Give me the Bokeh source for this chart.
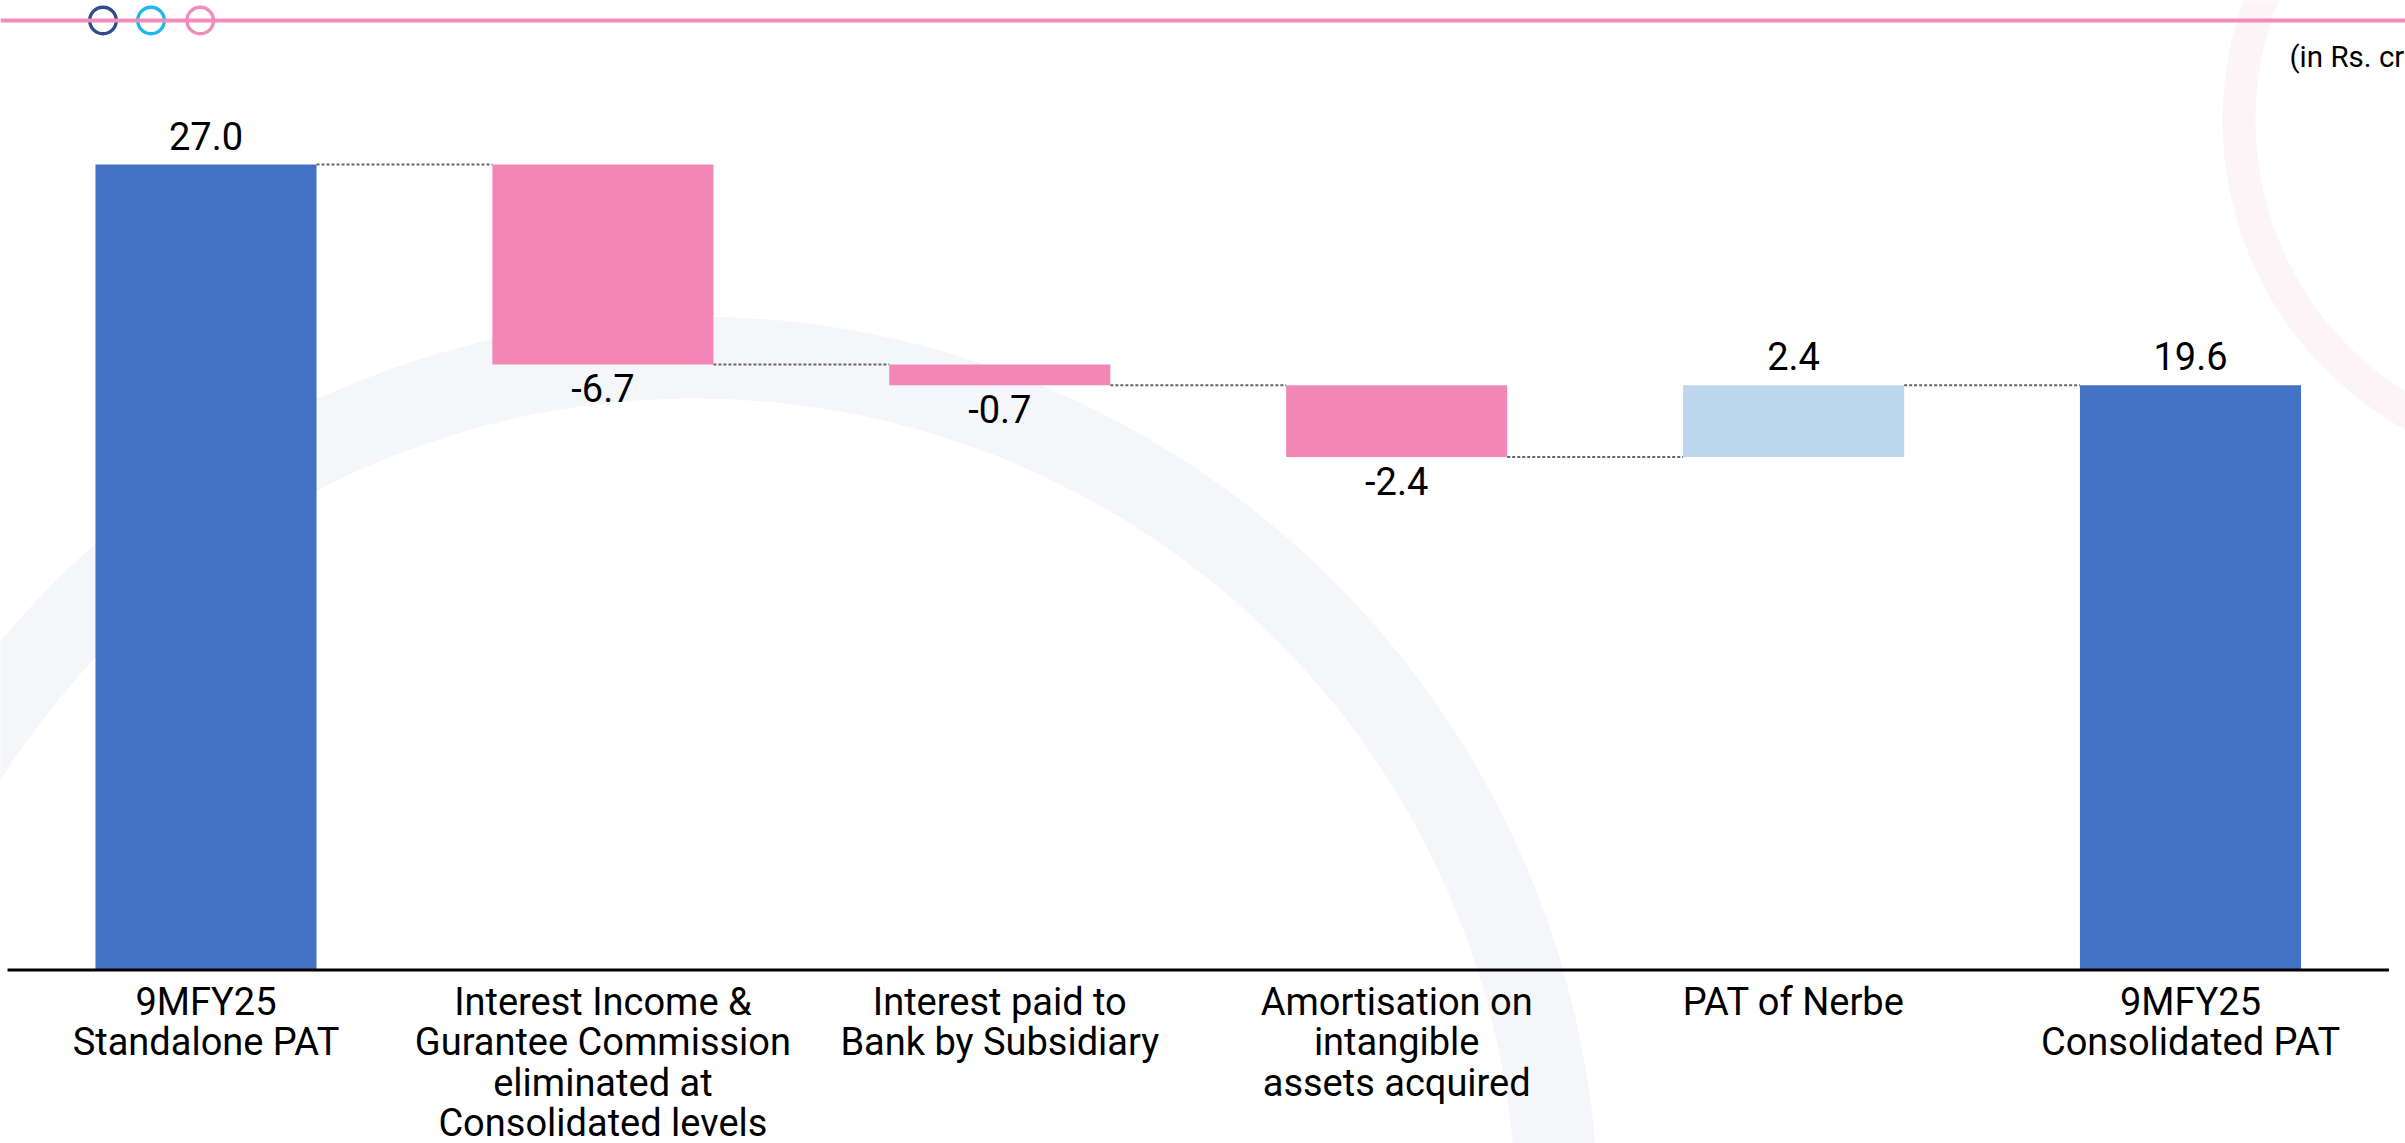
from bokeh.plotting import figure
from bokeh.models import Range1d, Span, ColumnDataSource
from bokeh.core.properties import value
from bokeh.embed import file_html
from bokeh.resources import INLINE

# ---------------- data ----------------
categories = [
    "9MFY25\nStandalone PAT",
    "Interest Income &\nGurantee Commission\neliminated at\nConsolidated levels",
    "Interest paid to\nBank by Subsidiary",
    "Amortisation on\nintangible\nassets acquired",
    "PAT of Nerbe",
    "9MFY25\nConsolidated PAT",
]
values = [27.0, -6.7, -0.7, -2.4, 2.4, 19.6]
kinds = ["total", "delta", "delta", "delta", "delta", "total"]
value_labels = ["27.0", "-6.7", "-0.7", "-2.4", "2.4", "19.6"]
unit_note = "(in Rs. crore)"

# ---------------- layout constants (pixels) ----------------
W, H = 2405, 1143
X0PX = 205.5      # pixel centre of first category
STEP = 396.9      # pixels per category
AXIS_PY = 969.5   # pixel row of value 0
PPU = 29.83       # pixels per unit of value
BAR_W = 0.557

def dx(px):
    return (px - X0PX) / STEP

def dy(py):
    return (AXIS_PY - py) / PPU

BLUE = "#4472C4"
PINK = "#F287B7"
LIGHT = "#BDD7EE"

# ---------------- waterfall geometry ----------------
idx = list(range(len(categories)))
bottoms, tops, colors, levels = [], [], [], []
running = 0.0
for v, k in zip(values, kinds):
    if k == "total":
        b, t = 0.0, v
        running = v
        colors.append(BLUE)
    else:
        b, t = running, running + v
        running = running + v
        colors.append(PINK if v < 0 else LIGHT)
    bottoms.append(min(b, t))
    tops.append(max(b, t))
    levels.append(running)

lab_y = []
for v, b, t in zip(values, bottoms, tops):
    if v >= 0:
        lab_y.append(t + 43.0 / PPU)   # text box top above the bar
    else:
        lab_y.append(b - 10.0 / PPU)   # text box top just below the bar

bars = ColumnDataSource(dict(x=idx, bottom=bottoms, top=tops, color=colors))
labs = ColumnDataSource(dict(x=idx, y=lab_y, text=value_labels))
cats = ColumnDataSource(dict(x=idx, y=[dy(AXIS_PY + 10)] * len(idx), text=categories))
conn = ColumnDataSource(dict(
    x0=[i + BAR_W / 2 for i in idx[:-1]],
    x1=[i + 1 - BAR_W / 2 for i in idx[:-1]],
    y=levels[:-1],
))

# ---------------- figure ----------------
p = figure(
    width=W, height=H,
    x_range=Range1d(dx(0), dx(W)),
    y_range=Range1d(dy(H), dy(0)),
    output_backend="svg", toolbar_location=None,
    x_axis_location=None, y_axis_location=None,
    min_border=0,
)
p.outline_line_color = None
p.grid.visible = False
p.background_fill_color = "white"
p.border_fill_color = "white"

# background decorative rings
p.annulus(x=[dx(694)], y=[dy(1220)], inner_radius=822, outer_radius=904,
          inner_radius_units="screen", outer_radius_units="screen",
          fill_color="#F5F6FA", line_color=None)
p.annulus(x=[dx(2575)], y=[dy(120)], inner_radius=320, outer_radius=353,
          inner_radius_units="screen", outer_radius_units="screen",
          fill_color="#FDF4F8", line_color=None)

# bars
p.vbar(x="x", bottom="bottom", top="top", width=BAR_W, fill_color="color",
       line_color=None, source=bars)

# connectors
p.segment(x0="x0", y0="y", x1="x1", y1="y", line_color="#666666",
          line_width=2, line_dash="3 2", source=conn)

# baseline
p.segment(x0=[-0.5], y0=[0], x1=[len(idx) - 0.5], y1=[0], line_color="black", line_width=3)

# value labels
p.text(x="x", y="y", text="text", source=labs, text_align="center",
       text_baseline="top", text_font=value("Roboto"),
       text_font_size="38px", text_color="black")

# category labels
p.text(x="x", y="y", text="text", source=cats, text_align="center",
       text_baseline="top", text_font=value("Roboto"), text_font_size="38px",
       text_line_height=0.915, text_color="black")

# unit note
p.text(x=[dx(2289)], y=[dy(39)], text=[unit_note], text_align="left",
       text_baseline="top", text_font=value("Roboto"),
       text_font_size="29.5px", text_color="black")

# top decoration line and circles
p.add_layout(Span(location=dy(20), dimension="width", line_color="#F28CB9", line_width=4))
p.scatter(x=[dx(102.5), dx(150.5), dx(199.7)], y=[dy(20)] * 3, size=26.6,
          marker="circle", fill_color="white",
          line_color=["#2E4C8C", "#1FB8EC", "#F28CB9"], line_width=3.4)

open("out.html", "w").write(file_html(p, INLINE))
